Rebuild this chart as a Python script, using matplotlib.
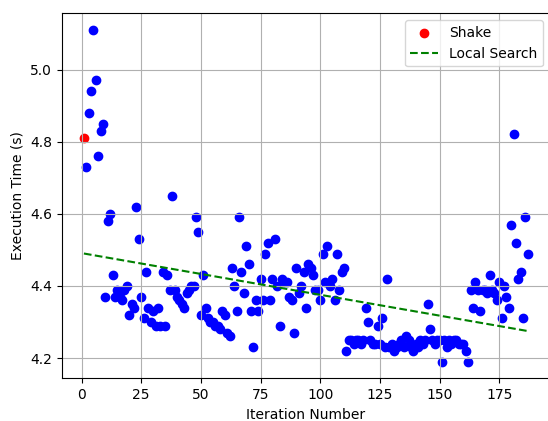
import numpy as np
import matplotlib
matplotlib.use('Agg')
import matplotlib.pyplot as plt

# starting solution after the shake
shake_iter = [1]
shake_time = [4.81]

# execution time of every local search iteration (iterations 2..187)
times = [
    4.73, 4.88, 4.94, 5.11, 4.97, 4.76, 4.83, 4.85, 4.37,            # 2-10
    4.58, 4.60, 4.43, 4.37, 4.39, 4.37, 4.36, 4.39, 4.40, 4.32,      # 11-20
    4.35, 4.34, 4.62, 4.53, 4.37, 4.31, 4.44, 4.34, 4.30, 4.33,      # 21-30
    4.29, 4.34, 4.29, 4.44, 4.29, 4.43, 4.39, 4.65, 4.39, 4.37,      # 31-40
    4.36, 4.35, 4.34, 4.38, 4.39, 4.40, 4.40, 4.59, 4.55, 4.32,      # 41-50
    4.43, 4.34, 4.31, 4.30, 4.30, 4.29, 4.29, 4.28, 4.33, 4.32,      # 51-60
    4.27, 4.26, 4.45, 4.40, 4.33, 4.59, 4.44, 4.38, 4.51, 4.46,      # 61-70
    4.33, 4.23, 4.36, 4.33, 4.42, 4.36, 4.49, 4.52, 4.36, 4.42,      # 71-80
    4.53, 4.40, 4.29, 4.42, 4.41, 4.41, 4.37, 4.36, 4.27, 4.45,      # 81-90
    4.38, 4.40, 4.44, 4.34, 4.46, 4.45, 4.43, 4.39, 4.39, 4.36,      # 91-100
    4.49, 4.41, 4.51, 4.40, 4.42, 4.36, 4.49, 4.39, 4.44, 4.45,      # 101-110
    4.22, 4.25, 4.25, 4.24, 4.25, 4.25, 4.24, 4.25, 4.34, 4.30,      # 111-120
    4.25, 4.24, 4.24, 4.29, 4.24, 4.31, 4.23, 4.42, 4.23, 4.24,      # 121-130
    4.22, 4.23, 4.24, 4.25, 4.23, 4.26, 4.25, 4.23, 4.22, 4.24,      # 131-140
    4.23, 4.25, 4.24, 4.25, 4.35, 4.28, 4.25, 4.24, 4.25, 4.25,      # 141-150
    4.19, 4.25, 4.23, 4.25, 4.24, 4.25, 4.25, 4.24, 4.24, 4.24,      # 151-160
    4.22, 4.19, 4.39, 4.34, 4.41, 4.39, 4.33, 4.39, 4.39, 4.38,      # 161-170
    4.43, 4.39, 4.38, 4.36, 4.41, 4.31, 4.40, 4.37, 4.34, 4.57,      # 171-180
    4.82, 4.52, 4.42, 4.44, 4.31, 4.59, 4.49,                        # 181-187
]
iters = list(range(2, 2 + len(times)))

# trend of the local search
trend_iter = [1, 187]
trend_time = [4.49, 4.275]

fig = plt.figure(figsize=(5.48, 4.21), dpi=100)
ax = fig.add_axes([0.1126, 0.1014, 0.8912, 0.867])

ax.scatter(iters, times, color='blue')
ax.scatter(shake_iter, shake_time, color='red', label='Shake')
ax.plot(trend_iter, trend_time, color='green', linestyle='--', label='Local Search')

ax.set_xlabel('Iteration Number')
ax.set_ylabel('Execution Time (s)')
ax.set_xlim(-8.3, 196.3)
ax.set_ylim(4.144, 5.156)
ax.set_xticks([0, 25, 50, 75, 100, 125, 150, 175])
ax.set_yticks([4.2, 4.4, 4.6, 4.8, 5.0])
ax.legend(loc='upper right')
ax.grid(True)

fig.savefig('out.png', dpi=100)
